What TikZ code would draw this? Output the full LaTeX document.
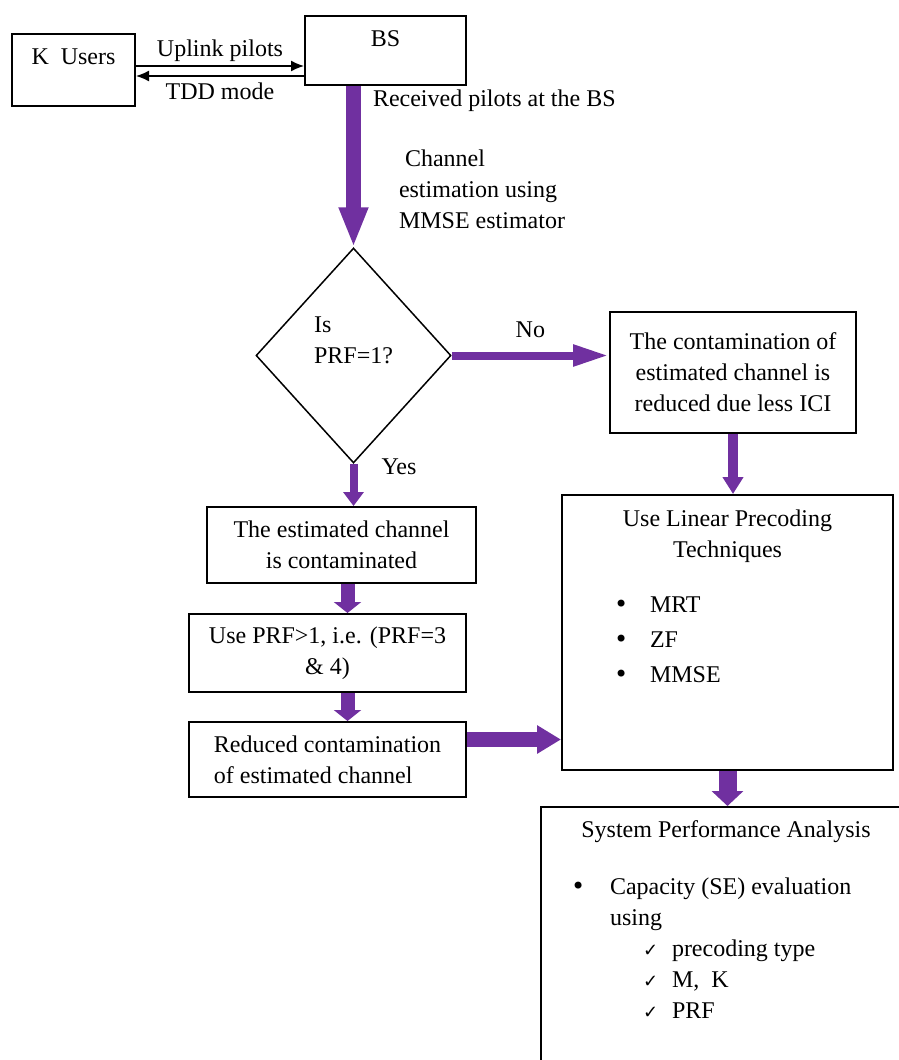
\documentclass[tikz,border=0pt]{standalone}
\usepackage{fontspec}
\setmainfont{Liberation Serif}
\newfontfamily\dvfont{DejaVu Sans}
\usetikzlibrary{shapes.geometric,arrows.meta}
\definecolor{purp}{RGB}{112,48,160}
\newcommand{\chk}{{\dvfont\fontsize{9}{9}\selectfont ✓}}
\newcommand{\bul}{{\dvfont\textbullet}}
\begin{document}
\begin{tikzpicture}[>={Latex[length=6.5pt,width=5.5pt]},x=0.5pt,y=-0.5pt,font=\fontsize{12}{15.5}\selectfont,
  box/.style={draw,line width=1pt,inner sep=0pt,align=center},
  lbl/.style={inner sep=0pt},
  thin/.style={->,line width=0.75pt},
  fat/.style n args={3}{draw=purp,line width=#1,-{Triangle[width=#2,length=#3]}}]
\useasboundingbox (0,0) rectangle (899,1060);
\clip (0,0) rectangle (899,1060);
\path
(73.5,70)    node[box] (users) {\parbox[c][36pt][t]{61.5pt}{\centering\vspace*{7.5pt}K\ \ Users}}
(385.5,50.5) node[box] (bs) {\parbox[c][34.5pt][t]{80.5pt}{\centering\vspace*{7.5pt}BS}}
(353.5,355.5) node[diamond,draw,line width=0.75pt,inner sep=0pt,align=left,
              minimum width=97.5pt,minimum height=107.5pt] (dec) {Is\\PRF=1?\\ \mbox{}}
(733,372.5)  node[box,minimum width=123pt,minimum height=60.5pt] (contam)
             {The contamination of\\estimated channel is\\reduced due less ICI}
(727.5,632.5) node[box] (precode) {\parbox[c][137.5pt][t]{165.5pt}{\centering\vspace*{7.5pt}%
   Use Linear Precoding\\Techniques\par\vspace{12pt}\raggedright
   \hspace*{26pt}\makebox[18pt][l]{\bul}MRT\\[2pt]
   \hspace*{26pt}\makebox[18pt][l]{\bul}ZF\\[2pt]
   \hspace*{26pt}\makebox[18pt][l]{\bul}MMSE}}
(726,957)    node[box] (sysperf) {\parbox[c][150pt][t]{185pt}{\centering\vspace*{7pt}%
   System Performance Analysis\par\vspace{13pt}\raggedright
   \hspace*{15pt}\makebox[19.5pt][l]{\bul}Capacity (SE) evaluation\\
   \hspace*{34.5pt}using\\
   \hspace*{51pt}\makebox[14.5pt][l]{\chk}precoding type\\
   \hspace*{51pt}\makebox[14.5pt][l]{\chk}M,\ \ K\\
   \hspace*{51pt}\makebox[14.5pt][l]{\chk}PRF}}
(341.5,545)  node[box,minimum width=134.5pt,minimum height=38pt] (est)
             {The estimated channel\\is contaminated}
(327.5,653)  node[box,minimum width=138.5pt,minimum height=39pt] (useprf)
             {Use PRF>1, i.e. (PRF=3\\\& 4)}
(327.5,759.5) node[box,align=left,minimum width=138.5pt,minimum height=37.5pt] (reduced)
             {Reduced contamination\\of estimated channel};

% users <-> BS
\draw[thin] ([yshift=2pt]users.east) -- ([yshift=2pt]users.east -| bs.west)
  node[midway,above=2pt,lbl]{Uplink pilots};
\draw[thin] ([yshift=-3pt]users.east -| bs.west) -- ([yshift=-3pt]users.east)
  node[midway,below=3pt,lbl]{TDD mode};

% main flow
\draw[fat={7.5pt}{13.5pt}{20pt}] (dec.north |- bs.south) -- (dec.north)
  node[pos=.09,right=6pt,lbl]{Received pilots at the BS}
  node[pos=.64,right=19pt,lbl,align=left]{\ Channel\\estimation using\\MMSE estimator};
\draw[fat={4pt}{10pt}{18pt}] (dec.east) -- (dec.east -| contam.west)
  node[midway,above=7pt,lbl]{No};
\draw[fat={4pt}{10pt}{7pt}] (dec.south) -- (dec.south |- est.north)
  node[pos=.07,right=12pt,lbl]{Yes};
\draw[fat={5pt}{10pt}{8.5pt}] (contam.south) -- (contam.south |- precode.north);
\draw[fat={7pt}{13.5pt}{5.5pt}] ([xshift=3pt]est.south) -- ([xshift=3pt]est.south |- useprf.north);
\draw[fat={7pt}{13.5pt}{5.5pt}] ([xshift=10pt]useprf.south) -- ([xshift=10pt]reduced.north);
\draw[fat={7.5pt}{13.5pt}{12pt}] ([yshift=10pt]reduced.east) -- ([yshift=10pt]reduced.east -| precode.west);
\draw[fat={9pt}{15.5pt}{7.5pt}] (precode.south) -- (precode.south |- sysperf.north);
\end{tikzpicture}
\end{document}
